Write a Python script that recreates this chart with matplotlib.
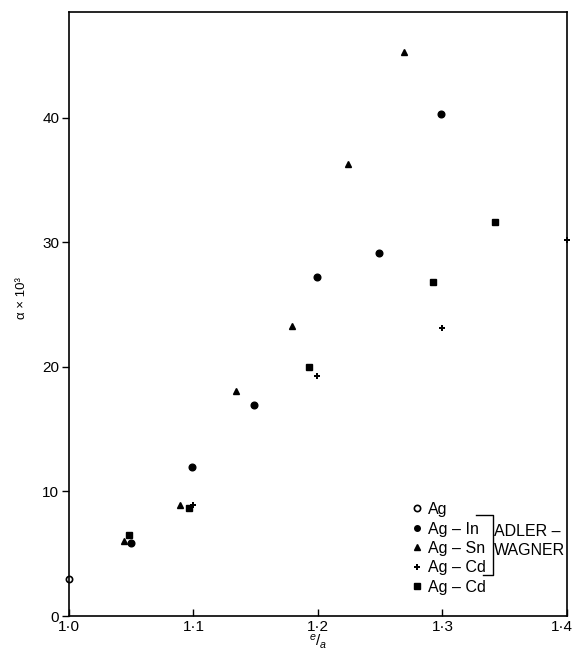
import matplotlib
matplotlib.use('Agg')
import matplotlib.pyplot as plt
import matplotlib.transforms as mtransforms
from matplotlib.lines import Line2D

plt.rcParams['font.family'] = ['Liberation Sans', 'DejaVu Sans']
plt.rcParams['mathtext.fontset'] = 'custom'
plt.rcParams['mathtext.it'] = 'Liberation Sans:italic'
plt.rcParams['mathtext.rm'] = 'Liberation Sans'

# -----------------------------
# Data (e/a, alpha x 10^3)
# -----------------------------
ag_x = [1.0]
ag_y = [3.0]

agin_x = [1.05, 1.099, 1.149, 1.199, 1.249, 1.299]
agin_y = [5.9, 12.0, 16.9, 27.2, 29.1, 40.3]

agsn_x = [1.044, 1.089, 1.134, 1.179, 1.224, 1.269]
agsn_y = [6.0, 8.9, 18.1, 23.3, 36.3, 45.3]

# Adler-Wagner Ag-Cd (+)
agcd_aw_x = [1.0995, 1.199, 1.3, 1.4]
agcd_aw_y = [8.9, 19.3, 23.1, 30.2]

# Ag-Cd (squares)
agcd_x = [1.048, 1.096, 1.193, 1.292, 1.342]
agcd_y = [6.5, 8.7, 20.0, 26.8, 31.6]

xticks = [1.0, 1.1, 1.2, 1.3, 1.4]
xticklabels = ['1·0', '1·1', '1·2', '1·3', '1·4']
yticks = [0, 10, 20, 30, 40]

fig = plt.figure(figsize=(5.75, 6.54), dpi=100)
ax = fig.add_axes([0.12, 0.058, 0.866, 0.924])

ax.plot(ag_x, ag_y, 'o', mfc='white', mec='black', mew=1.2, ms=4.5, clip_on=False)
ax.plot(agin_x, agin_y, 'o', color='black', ms=4.8)
ax.plot(agsn_x, agsn_y, '^', color='black', ms=4.8)
ax.plot(agcd_aw_x, agcd_aw_y, 'P', color='black', ms=4.8, mew=0, clip_on=False)
ax.plot(agcd_x, agcd_y, 's', color='black', ms=4.2)

ax.set_xlim(1.0, 1.4)
ax.set_ylim(0, 48.5)
ax.set_xticks(xticks)
ax.set_xticklabels(xticklabels)
ax.set_yticks(yticks)
ax.tick_params(axis='x', direction='in', length=5, width=1, labelsize=11, pad=3)
ax.tick_params(axis='y', direction='out', length=5, width=1, labelsize=11, pad=2)
for s in ax.spines.values():
    s.set_linewidth(1.2)

# ultimo rotulo encostado na borda
lbl = ax.get_xticklabels()[-1]
lbl.set_transform(lbl.get_transform() + mtransforms.ScaledTranslation(-4 / 72, 0, fig.dpi_scale_trans))

ax.set_xlabel(r'$^{e}/_{a}$', fontsize=11, labelpad=-1)
fig.text(0.038, 0.544, 'α × 10³', rotation=90, ha='center', va='center', fontsize=9.5)

# -----------------------------
# Legenda
# -----------------------------
handles = [
    Line2D([], [], ls='none', marker='o', mfc='white', mec='black', mew=1.2, ms=4.5),
    Line2D([], [], ls='none', marker='o', color='black', ms=4),
    Line2D([], [], ls='none', marker='^', color='black', ms=4.5),
    Line2D([], [], ls='none', marker='P', color='black', ms=5, mew=0),
    Line2D([], [], ls='none', marker='s', color='black', ms=4),
]
labels = ['Ag', 'Ag – In', 'Ag – Sn', 'Ag – Cd', 'Ag – Cd']
ax.legend(handles, labels, loc='lower left', bbox_to_anchor=(0.686, 0.035),
          frameon=False, fontsize=11.5, borderpad=0, borderaxespad=0,
          handlelength=0.8, handletextpad=0.3, labelspacing=0.28)

# colchete ADLER-WAGNER
ax.plot([0.818, 0.851, 0.851, 0.831], [0.167, 0.167, 0.068, 0.068],
        color='black', lw=1, transform=ax.transAxes)
ax.text(0.854, 0.1396, 'ADLER –', transform=ax.transAxes, fontsize=11.5,
        ha='left', va='center')
ax.text(0.854, 0.109, 'WAGNER', transform=ax.transAxes, fontsize=11.5,
        ha='left', va='center')

plt.savefig('out.png', dpi=100)
